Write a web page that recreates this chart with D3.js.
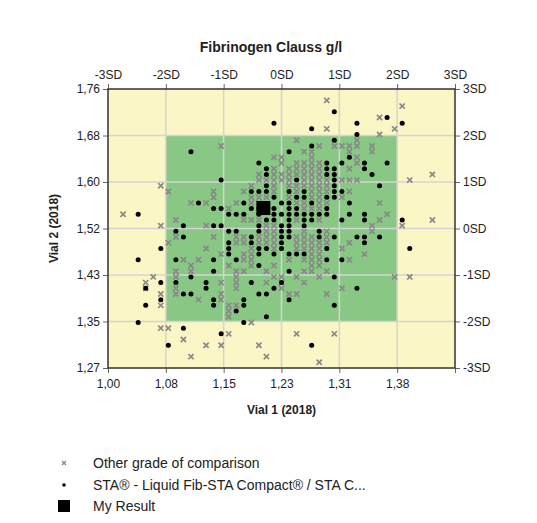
<!DOCTYPE html>
<html lang="en">
<head>
<meta charset="utf-8">
<title>Fibrinogen Clauss g/l</title>
<script src="https://d3js.org/d3.v7.min.js"></script>
<style>
  body { margin: 0; background: #fff; }
  svg text { font-family: "Liberation Sans", Arial, sans-serif; fill: #222; }
  .axis path { display: none; }
  .axis line { stroke: #666; }
  .axis text { font-size: 12px; }
</style>
</head>
<body>
<script>
// axis values
var xTicks = [1.00, 1.0767, 1.1533, 1.23, 1.3067, 1.3833, 1.46];
var xTickLabels = ["1,00", "1,08", "1,15", "1,23", "1,31", "1,38", ""];
var yTicks = [1.27, 1.3517, 1.4333, 1.515, 1.5967, 1.6783, 1.76];
var yTickLabels = ["1,27", "1,35", "1,43", "1,52", "1,60", "1,68", "1,76"];
var sdLabels = ["-3SD", "-2SD", "-1SD", "0SD", "1SD", "2SD", "3SD"];

// other grade of comparison (x marks)
var otherGrade = [
  [1.02,1.54],[1.07,1.59],[1.08,1.58],[1.07,1.52],[1.05,1.42],[1.06,1.43],[1.05,1.41],[1.07,1.40],
  [1.07,1.38],[1.07,1.34],[1.08,1.34],[1.09,1.53],[1.08,1.49],[1.09,1.50],[1.09,1.44],[1.09,1.43],
  [1.09,1.41],[1.09,1.40],[1.10,1.46],[1.12,1.46],[1.11,1.45],[1.11,1.44],[1.11,1.56],[1.13,1.56],
  [1.13,1.52],[1.14,1.58],[1.14,1.57],[1.15,1.66],[1.12,1.39],[1.15,1.39],[1.15,1.40],[1.16,1.38],
  [1.16,1.37],[1.16,1.36],[1.17,1.38],[1.19,1.35],[1.16,1.33],[1.10,1.32],[1.13,1.31],[1.15,1.31],
  [1.20,1.31],[1.11,1.29],[1.21,1.29],[1.17,1.56],[1.16,1.55],[1.18,1.58],[1.22,1.64],[1.23,1.64],
  [1.29,1.74],[1.39,1.73],[1.36,1.71],[1.29,1.69],[1.38,1.69],[1.36,1.68],[1.25,1.67],[1.33,1.67],
  [1.28,1.66],[1.30,1.66],[1.31,1.66],[1.32,1.66],[1.33,1.66],[1.35,1.66],[1.35,1.65],[1.26,1.65],
  [1.27,1.65],[1.27,1.64],[1.27,1.63],[1.27,1.62],[1.33,1.64],[1.33,1.63],
  [1.40,1.60],[1.43,1.61],[1.33,1.60],[1.32,1.58],[1.36,1.56],[1.37,1.54],[1.36,1.53],[1.43,1.53],
  [1.39,1.52],[1.35,1.52],[1.35,1.51],[1.32,1.49],[1.34,1.47],[1.31,1.48],[1.32,1.46],[1.38,1.43],
  [1.40,1.43],[1.28,1.43],[1.31,1.41],[1.29,1.40],[1.25,1.40],[1.24,1.40],[1.25,1.33],[1.30,1.33],
  [1.28,1.28],[1.29,1.51],[1.29,1.50],[1.29,1.49],
  [1.17,1.44],[1.17,1.43],[1.17,1.42],[1.17,1.41],[1.23,1.43],[1.23,1.42],[1.23,1.41],[1.19,1.48],
  [1.19,1.47],[1.19,1.46],[1.19,1.45],[1.18,1.50],[1.18,1.49],[1.18,1.47],[1.18,1.46],[1.17,1.50],
  [1.17,1.49],[1.20,1.50],[1.20,1.49],[1.25,1.50],[1.25,1.49],[1.25,1.48],[1.27,1.50],[1.27,1.49],
  [1.27,1.48],[1.27,1.47],[1.27,1.46],[1.27,1.45],[1.27,1.44],[1.26,1.44],[1.25,1.43],[1.26,1.42],
  [1.22,1.45],[1.21,1.44],[1.22,1.43],[1.24,1.46],[1.21,1.42],[1.26,1.46],[1.28,1.45],[1.29,1.44],
  [1.18,1.44],[1.15,1.47],[1.14,1.50],[1.13,1.48],[1.16,1.45],[1.15,1.42],
  [1.20,1.61],[1.20,1.60],[1.22,1.62],[1.22,1.61],[1.22,1.60],[1.22,1.59],[1.23,1.63],[1.23,1.61],
  [1.23,1.60],[1.19,1.59],[1.19,1.57],[1.19,1.56],
  [1.24,1.62],[1.24,1.61],[1.24,1.60],[1.24,1.59],[1.24,1.57],
  [1.25,1.63],[1.25,1.62],[1.25,1.61],[1.25,1.59],[1.25,1.58],[1.25,1.56],[1.25,1.53],
  [1.26,1.63],[1.26,1.62],[1.26,1.61],[1.26,1.60],[1.26,1.59],[1.26,1.56],[1.26,1.55],
  [1.27,1.61],[1.27,1.60],[1.27,1.59],[1.27,1.58],[1.27,1.57],[1.27,1.55],
  [1.28,1.63],[1.28,1.62],[1.28,1.61],[1.28,1.60],[1.28,1.59],[1.28,1.58],[1.28,1.57],[1.28,1.56],
  [1.28,1.55],[1.28,1.53],[1.29,1.60],[1.29,1.59],[1.29,1.58],[1.29,1.56],
  [1.31,1.60],[1.31,1.57],[1.32,1.65],[1.32,1.62],[1.32,1.60],
  [1.20,1.57],[1.20,1.56],[1.21,1.60],[1.21,1.57],[1.22,1.58],
  [1.18,1.53],[1.19,1.53],[1.20,1.53],[1.21,1.52],[1.21,1.51],[1.21,1.50],[1.21,1.49],
  [1.22,1.52],[1.22,1.51],[1.22,1.50],[1.22,1.49],[1.22,1.48],
  [1.26,1.51],[1.26,1.50],[1.26,1.49],[1.26,1.48],[1.28,1.49],[1.28,1.48],[1.28,1.47],[1.28,1.46]
];

// STA - Liquid Fib-STA Compact / STA C... (dots)
var staLiquid = [
  [1.04,1.54],[1.04,1.46],[1.05,1.41],[1.05,1.38],[1.04,1.35],[1.07,1.48],[1.07,1.42],[1.07,1.39],
  [1.08,1.31],[1.10,1.34],[1.15,1.33],[1.10,1.52],[1.09,1.51],[1.10,1.50],[1.09,1.46],[1.14,1.46],
  [1.14,1.44],[1.11,1.43],[1.09,1.42],[1.10,1.40],[1.11,1.40],[1.13,1.42],[1.13,1.41],[1.14,1.39],
  [1.14,1.38],[1.17,1.37],[1.18,1.39],[1.18,1.38],[1.18,1.35],[1.21,1.36],[1.11,1.65],[1.22,1.70],
  [1.20,1.63],[1.15,1.60],[1.12,1.56],[1.14,1.55],[1.15,1.55],[1.16,1.54],[1.17,1.54],[1.18,1.54],
  [1.18,1.56],[1.14,1.52],[1.15,1.52],
  [1.30,1.72],[1.37,1.71],[1.39,1.70],[1.33,1.70],[1.27,1.69],[1.33,1.68],[1.30,1.67],[1.27,1.66],
  [1.24,1.65],[1.32,1.64],[1.34,1.63],[1.37,1.63],[1.34,1.62],[1.35,1.61],[1.36,1.59],[1.34,1.54],
  [1.34,1.53],[1.31,1.53],[1.39,1.53],[1.32,1.56],[1.40,1.48],[1.33,1.50],[1.34,1.50],[1.34,1.49],
  [1.36,1.50],[1.30,1.50],[1.29,1.48],[1.29,1.46],[1.31,1.46],[1.30,1.43],[1.33,1.41],[1.30,1.38],
  [1.24,1.39],[1.22,1.41],[1.23,1.42],[1.24,1.44],[1.27,1.31],
  [1.21,1.62],[1.21,1.61],[1.19,1.58],[1.20,1.58],[1.21,1.59],[1.21,1.58],[1.22,1.57],[1.19,1.55],
  [1.20,1.55],[1.20,1.54],[1.29,1.63],[1.29,1.62],[1.29,1.61],[1.30,1.62],[1.30,1.61],[1.30,1.60],
  [1.30,1.59],[1.31,1.63],[1.25,1.60],[1.24,1.58],[1.24,1.56],[1.24,1.55],[1.24,1.54],[1.24,1.53],
  [1.25,1.57],[1.25,1.55],[1.25,1.54],[1.26,1.58],[1.26,1.57],[1.26,1.54],[1.27,1.56],[1.27,1.54],
  [1.28,1.54],[1.29,1.57],[1.29,1.55],[1.29,1.54],[1.30,1.58],[1.30,1.57],[1.31,1.58],[1.32,1.54],
  [1.16,1.51],[1.17,1.51],[1.16,1.49],[1.16,1.48],[1.16,1.47],[1.19,1.50],[1.19,1.49],[1.17,1.46],
  [1.20,1.52],[1.20,1.51],[1.20,1.48],[1.20,1.47],[1.21,1.48],[1.23,1.52],[1.23,1.51],[1.23,1.50],
  [1.23,1.49],[1.23,1.48],[1.22,1.47],[1.20,1.45],[1.19,1.42],[1.20,1.40],[1.21,1.40],[1.24,1.47],
  [1.25,1.47],[1.26,1.47],[1.26,1.52],[1.24,1.52],[1.24,1.51],[1.24,1.50],[1.28,1.51],[1.28,1.50],
  [1.22,1.53],[1.21,1.53],[1.26,1.53],[1.27,1.53],[1.22,1.55],[1.23,1.56],[1.22,1.54],[1.23,1.54]
];

// my result
var myResult = [1.206, 1.551];

var W = 537, H = 523;
var mLeft = 108, mRight = 455, mTop = 89, mBottom = 368;

var svg = d3.select("body").append("svg").attr("width", W).attr("height", H);

var x = d3.scaleLinear().domain([1.00, 1.46]).range([mLeft, mRight]);
var y = d3.scaleLinear().domain([1.27, 1.76]).range([mBottom, mTop]);

// title
svg.append("text")
  .attr("x", 271).attr("y", 52)
  .attr("text-anchor", "middle")
  .style("font-size", "14px").style("font-weight", "bold")
  .text("Fibrinogen Clauss g/l");

// background: yellow outside, green +-2SD
svg.append("rect")
  .attr("x", mLeft).attr("y", mTop)
  .attr("width", mRight - mLeft).attr("height", mBottom - mTop)
  .attr("fill", "#fbf6c6");
svg.append("rect")
  .attr("x", x(xTicks[1])).attr("y", y(yTicks[5]))
  .attr("width", x(xTicks[5]) - x(xTicks[1]))
  .attr("height", y(yTicks[1]) - y(yTicks[5]))
  .attr("fill", "#88c884");

// grid lines
svg.selectAll(".vgrid").data(xTicks.slice(1, 6)).enter().append("line")
  .attr("x1", d => x(d)).attr("x2", d => x(d))
  .attr("y1", mTop).attr("y2", mBottom)
  .attr("stroke", "#d4d4d4").attr("stroke-width", 1.5);
svg.selectAll(".hgrid").data(yTicks.slice(1, 6)).enter().append("line")
  .attr("y1", d => y(d)).attr("y2", d => y(d))
  .attr("x1", mLeft).attr("x2", mRight)
  .attr("stroke", "#d4d4d4").attr("stroke-width", 1.5);

// axes
svg.append("g").attr("class", "axis")
  .attr("transform", "translate(0," + mBottom + ")")
  .call(d3.axisBottom(x).tickValues(xTicks).tickSize(5).tickPadding(6)
    .tickFormat((d, i) => xTickLabels[i]));
svg.append("g").attr("class", "axis")
  .attr("transform", "translate(0," + mTop + ")")
  .call(d3.axisTop(x).tickValues(xTicks).tickSize(5).tickPadding(5)
    .tickFormat((d, i) => sdLabels[i]));
svg.append("g").attr("class", "axis")
  .attr("transform", "translate(" + mLeft + ",0)")
  .call(d3.axisLeft(y).tickValues(yTicks).tickSize(5).tickPadding(3)
    .tickFormat((d, i) => yTickLabels[i]));
svg.append("g").attr("class", "axis")
  .attr("transform", "translate(" + mRight + ",0)")
  .call(d3.axisRight(y).tickValues(yTicks).tickSize(5).tickPadding(3)
    .tickFormat((d, i) => sdLabels[i]));

// plot frame
svg.append("rect")
  .attr("x", mLeft).attr("y", mTop)
  .attr("width", mRight - mLeft).attr("height", mBottom - mTop)
  .attr("fill", "none").attr("stroke", "#333").attr("stroke-width", 1.5);

// x marks
var s = 2.6;
var xm = svg.append("g");
otherGrade.forEach(function(p) {
  var cx = x(p[0]), cy = y(p[1]);
  xm.append("path")
    .attr("d", "M" + (cx - s) + "," + (cy - s) + "L" + (cx + s) + "," + (cy + s) +
               "M" + (cx - s) + "," + (cy + s) + "L" + (cx + s) + "," + (cy - s))
    .attr("stroke", "#888").attr("stroke-width", 1.7);
});

// dots
svg.append("g").selectAll("circle").data(staLiquid).enter().append("circle")
  .attr("cx", d => x(d[0])).attr("cy", d => y(d[1]))
  .attr("r", 2.5).attr("fill", "#000");

// my result
svg.append("rect")
  .attr("x", x(myResult[0]) - 7).attr("y", y(myResult[1]) - 7)
  .attr("width", 14).attr("height", 14).attr("fill", "#000");

// axis titles
svg.append("text")
  .attr("x", (mLeft + mRight) / 2).attr("y", 414)
  .attr("text-anchor", "middle")
  .style("font-size", "12px").style("font-weight", "bold")
  .text("Vial 1 (2018)");
svg.append("text")
  .attr("transform", "translate(58," + (mTop + mBottom) / 2 + ") rotate(-90)")
  .attr("text-anchor", "middle")
  .style("font-size", "12px").style("font-weight", "bold")
  .text("Vial 2 (2018)");

// legend
var legend = svg.append("g");
var ly = [463, 485, 506];
var s2 = 2;
legend.append("path")
  .attr("d", "M" + (64 - s2) + "," + (ly[0] - s2) + "L" + (64 + s2) + "," + (ly[0] + s2) +
             "M" + (64 - s2) + "," + (ly[0] + s2) + "L" + (64 + s2) + "," + (ly[0] - s2))
  .attr("stroke", "#8c8c8c").attr("stroke-width", 1.4);
legend.append("circle").attr("cx", 64).attr("cy", ly[1]).attr("r", 1.8).attr("fill", "#000");
legend.append("rect").attr("x", 58).attr("y", ly[2] - 6).attr("width", 12).attr("height", 12).attr("fill", "#000");
var legendText = ["Other grade of comparison", "STA\u00ae - Liquid Fib-STA Compact\u00ae / STA C...", "My Result"];
legendText.forEach(function(t, i) {
  legend.append("text")
    .attr("x", 93).attr("y", ly[i] + 5)
    .style("font-size", "14px")
    .text(t);
});
</script>
</body>
</html>
